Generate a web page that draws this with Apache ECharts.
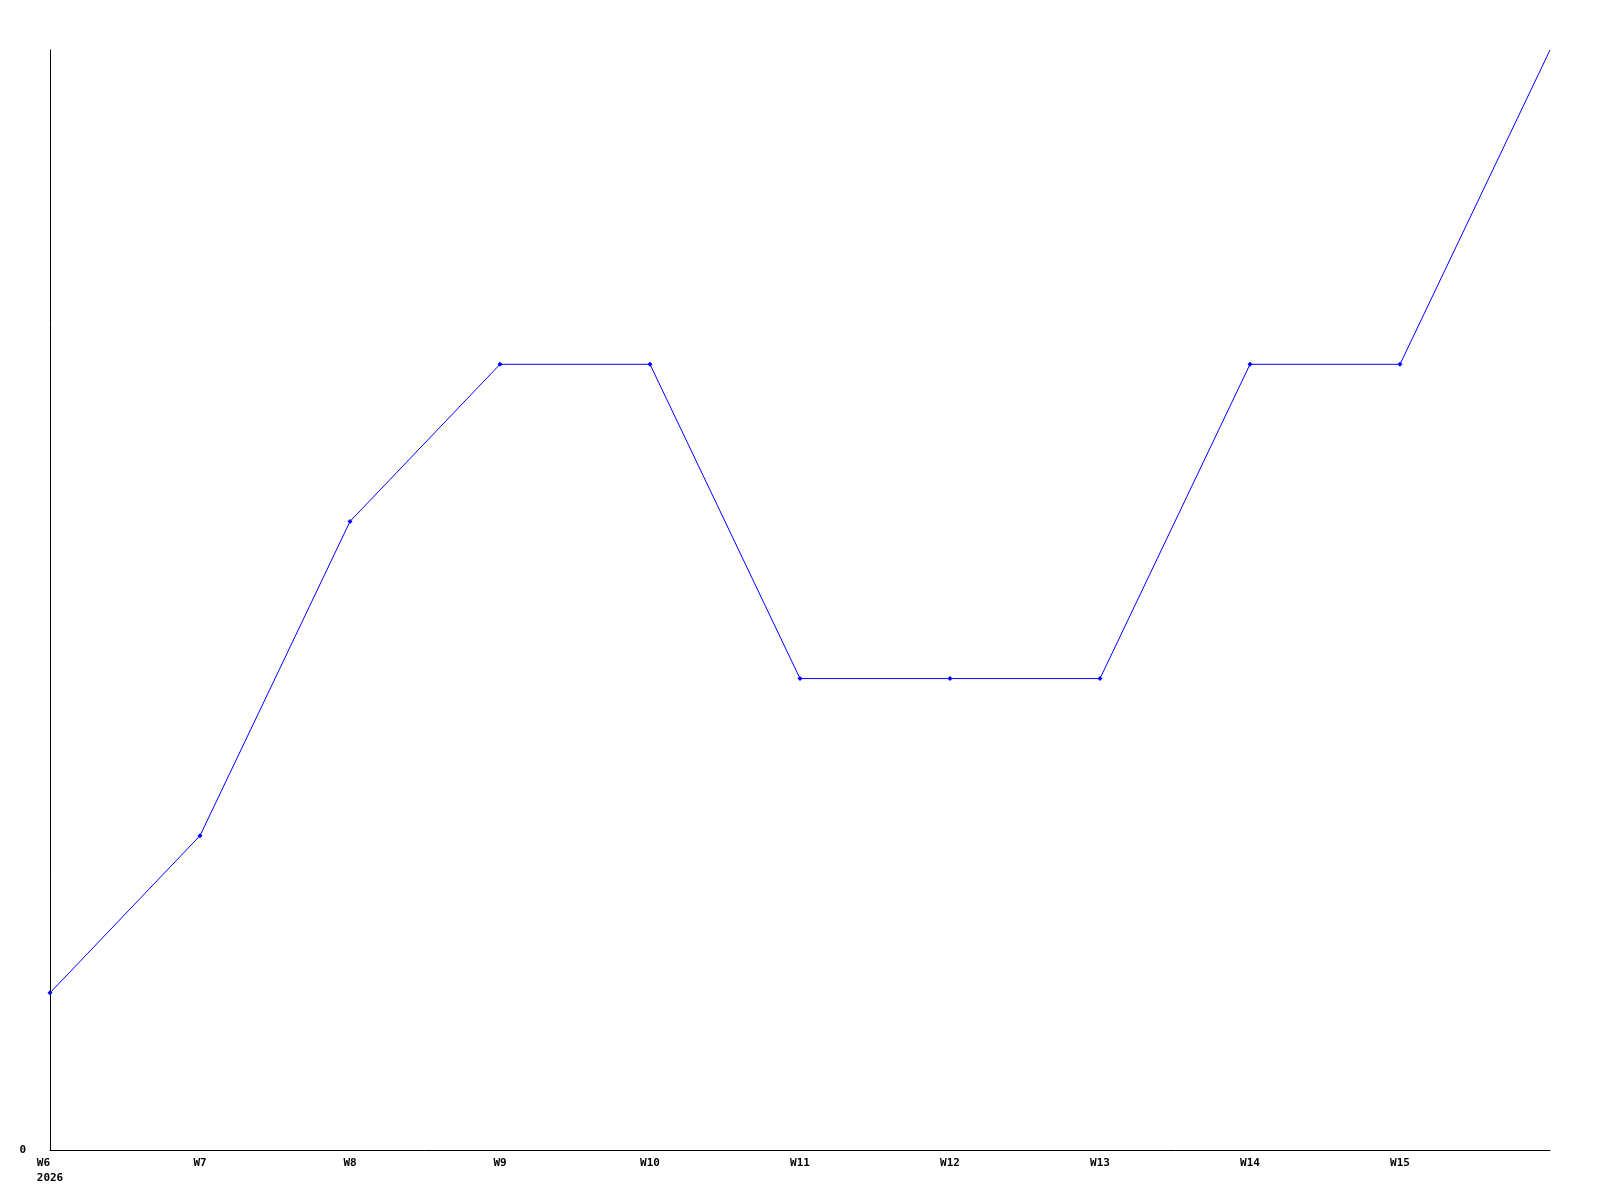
<!DOCTYPE html>
<html>
<head>
<meta charset="utf-8">
<script src="https://cdn.jsdelivr.net/npm/echarts@6/dist/echarts.min.js"></script>
<style>html,body{margin:0;padding:0;background:#fff;}#c{width:1600px;height:1200px;}</style>
</head>
<body>
<div id="c"></div>
<script>
const categories = ['W6','W7','W8','W9','W10','W11','W12','W13','W14','W15','W16'];
const values = [1,2,4,5,5,3,3,3,5,5,7];
const yearLabel = '2026';
const yLabels = ['0'];

const chart = echarts.init(document.getElementById('c'), null, {renderer:'canvas'});
const font = {fontFamily:'DejaVu Sans Mono', fontWeight:'bold', fontSize:11, color:'#000'};
chart.setOption({
  animation:false,
  backgroundColor:'#fff',
  grid:{left:50,right:50,top:50,bottom:50,containLabel:false},
  xAxis:{
    type:'category', data:categories, boundaryGap:false,
    axisLine:{show:true,lineStyle:{color:'#000',width:1}},
    axisTick:{show:false},
    splitLine:{show:false},
    axisLabel:Object.assign({}, font, {
      interval:0, margin:6, lineHeight:15,
      formatter:function(v,i){
        if(i===0) return '{l|'+v+'}\n{l|'+yearLabel+'}';
        if(i===categories.length-1) return '';
        return v;
      },
      rich:{l:Object.assign({}, font, {align:'left', lineHeight:15})}
    })
  },
  yAxis:{
    type:'value', min:0, max:7, interval:7,
    axisLine:{show:true,lineStyle:{color:'#000',width:1}},
    axisTick:{show:false},
    splitLine:{show:false},
    axisLabel:Object.assign({}, font, {
      margin:24,
      formatter:function(v){ return yLabels.indexOf(String(v))>=0 ? String(v) : ''; }
    })
  },
  series:[{
    type:'line',
    data:values.map(function(v,i){ return i===values.length-1 ? {value:v, symbol:'none'} : v; }),
    symbol:'diamond', symbolSize:5, showAllSymbol:true,
    lineStyle:{color:'#0000ff',width:1},
    itemStyle:{color:'#0000ff'},
    clip:false
  }]
});
</script>
</body>
</html>
